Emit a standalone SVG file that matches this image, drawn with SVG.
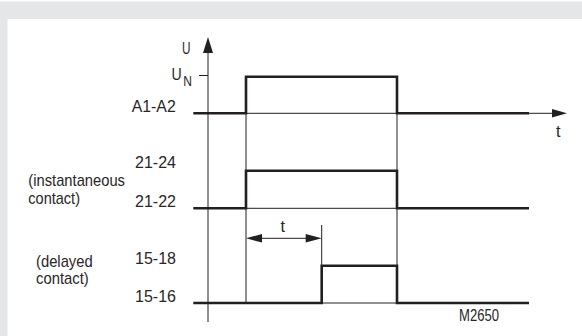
<svg xmlns="http://www.w3.org/2000/svg" width="582" height="336" viewBox="0 0 582 336">
<style>
text{font-family:"Liberation Sans",Arial,sans-serif;fill:#2a2627;font-size:17px}
.small{font-size:16px}
.thin{stroke:#231f20;stroke-width:1;fill:none}
.thick{stroke:#231f20;stroke-width:2.6;fill:none;stroke-linejoin:miter;stroke-linecap:butt}
.head{fill:#231f20;stroke:none}
</style>
<rect x="0" y="0" width="582" height="336" fill="#ffffff"/>
<path d="M0 1.5H582V19H7.5V336H0Z" fill="#e5e6e8"/>
<g id="labels">
<text x="182" y="54" textLength="8.5" lengthAdjust="spacingAndGlyphs">U</text>
<text x="171.5" y="79.5" textLength="20.5" lengthAdjust="spacingAndGlyphs">U<tspan dx="2" dy="6" style="font-size:14.5px">N</tspan></text>
<text x="131.7" y="111.7" textLength="44" lengthAdjust="spacingAndGlyphs">A1-A2</text>
<text x="135" y="168.3" textLength="41" lengthAdjust="spacingAndGlyphs">21-24</text>
<text x="135" y="207.3" textLength="41" lengthAdjust="spacingAndGlyphs">21-22</text>
<text x="135" y="264" textLength="41" lengthAdjust="spacingAndGlyphs">15-18</text>
<text x="135" y="301.7" textLength="41" lengthAdjust="spacingAndGlyphs">15-16</text>
<text x="28.3" y="186" textLength="96.7" lengthAdjust="spacingAndGlyphs">(instantaneous</text>
<text x="28.3" y="204" textLength="51.7" lengthAdjust="spacingAndGlyphs">contact)</text>
<text x="36" y="266.5" textLength="56.7" lengthAdjust="spacingAndGlyphs">(delayed</text>
<text x="36" y="284" textLength="52.7" lengthAdjust="spacingAndGlyphs">contact)</text>
<text x="556" y="137" textLength="4.5" lengthAdjust="spacingAndGlyphs">t</text>
<text x="280.5" y="231.7" textLength="4.5" lengthAdjust="spacingAndGlyphs">t</text>
<text x="459" y="320.7" class="small" textLength="40" lengthAdjust="spacingAndGlyphs">M2650</text>
</g>
<g id="axes">
<line class="thin" x1="208" y1="50" x2="208" y2="322"/>
<path class="head" d="M208 37L213 53H203Z"/>
<line class="thin" x1="199" y1="75.5" x2="208" y2="75.5"/>
<line class="thin" x1="208" y1="113.3" x2="553" y2="113.3"/>
<path class="head" d="M567 113.3L552 109V117.6Z"/>
</g>
<g id="guides">
<line class="thin" x1="246" y1="77" x2="246" y2="303"/>
<line class="thin" x1="397" y1="77" x2="397" y2="303"/>
<line class="thin" x1="246" y1="208.3" x2="397" y2="208.3"/>
<line class="thin" x1="321.7" y1="303" x2="397" y2="303"/>
<line class="thin" x1="321.7" y1="225" x2="321.7" y2="266"/>
</g>
<g id="signal-A1-A2">
<path class="thick" d="M193.3 113.3H246V76.7H397V113.3H529"/>
</g>
<g id="signal-21">
<path class="thick" d="M193.3 208.3H246V170.7H397V208.3H529"/>
</g>
<g id="signal-15">
<path class="thick" d="M193.3 303H321.7V265.7H397V303H529"/>
</g>
<g id="dimension-t">
<line class="thin" x1="258" y1="238.3" x2="310" y2="238.3"/>
<path class="head" d="M246 238.3L262 234V242.6Z"/>
<path class="head" d="M321.7 238.3L305.7 234V242.6Z"/>
</g>
</svg>
